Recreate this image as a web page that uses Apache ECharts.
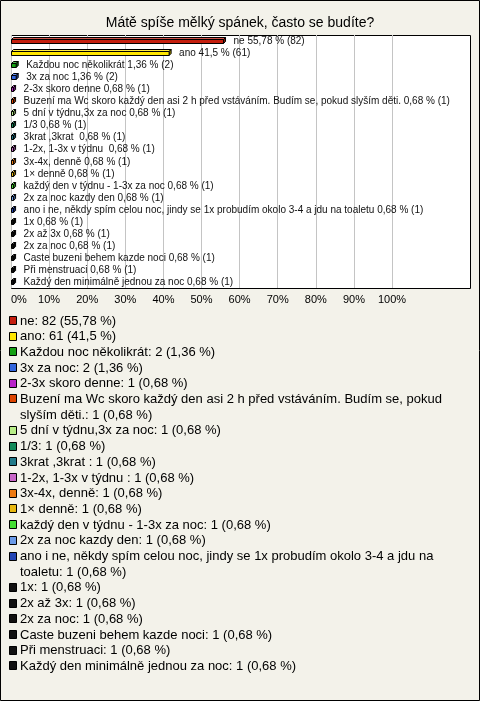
<!DOCTYPE html>
<html>
<head>
<meta charset="utf-8">
<script src="https://cdn.jsdelivr.net/npm/echarts@6/dist/echarts.min.js"></script>
<style>
html,body{margin:0;padding:0;background:#f3f2ea;}
#chart{width:480px;height:701px;}
</style>
</head>
<body>
<div id="chart"></div>
<script>
const title = 'Mátě spíše mělký spánek, často se budíte?';
const categories = [
  'ne', 'ano', 'Každou noc několikrát', '3x za noc', '2-3x skoro denne',
  'Buzení ma Wc skoro každý den asi 2 h před vstáváním. Budím se, pokud slyším děti.',
  '5 dní v týdnu,3x za noc', '1/3', '3krat ,3krat ', '1-2x, 1-3x v týdnu ',
  '3x-4x, denně', '1× denně', 'každý den v týdnu - 1-3x za noc', '2x za noc kazdy den',
  'ano i ne, někdy spím celou noc, jindy se 1x probudím okolo 3-4 a jdu na toaletu',
  '1x', '2x až 3x', '2x za noc', 'Caste buzeni behem kazde noci', 'Při menstruaci',
  'Každý den minimálně jednou za noc'
];
const counts = [82, 61, 2, 2, 1, 1, 1, 1, 1, 1, 1, 1, 1, 1, 1, 1, 1, 1, 1, 1, 1];
const percents = [55.78, 41.5, 1.36, 1.36, 0.68, 0.68, 0.68, 0.68, 0.68, 0.68, 0.68, 0.68, 0.68, 0.68, 0.68, 0.68, 0.68, 0.68, 0.68, 0.68, 0.68];
const colors = [
  '#c41e0e', '#ffe600', '#14a014', '#3366dd', '#b822c8', '#dd4400',
  '#b8ee88', '#128a5a', '#227a8a', '#c866c8', '#ee7a10', '#e8b810',
  '#44dd33', '#6a9ae8', '#2244b4', '#111111', '#111111', '#111111',
  '#111111', '#111111', '#111111'
];
const xMin = 0, xMax = 100, xInterval = 10;

const fmtPct = p => String(p).replace('.', ',');

function shade(hex, f) {
  const n = parseInt(hex.slice(1), 16);
  let r = (n >> 16) & 255, g = (n >> 8) & 255, b = n & 255;
  const m = v => Math.max(0, Math.min(255, Math.round(f >= 0 ? v + (255 - v) * f : v * (1 + f))));
  return 'rgb(' + m(r) + ',' + m(g) + ',' + m(b) + ')';
}

const chart = echarts.init(document.getElementById('chart'), null, {renderer: 'canvas'});

const canvas = document.createElement('canvas');
const ctx = canvas.getContext('2d');
const legendFont = '13px "Liberation Sans", Arial, sans-serif';
ctx.font = legendFont;
function wrap(text, maxW) {
  const words = text.split(' ');
  const lines = [];
  let cur = '';
  for (const w of words) {
    const t = cur ? cur + ' ' + w : w;
    if (cur && ctx.measureText(t).width > maxW) { lines.push(cur); cur = w; }
    else cur = t;
  }
  if (cur) lines.push(cur);
  return lines;
}
const legendEls = [];
const lh = 15.7;
let ly = 321;
categories.forEach((c, i) => {
  const txt = c + ': ' + counts[i] + ' (' + fmtPct(percents[i]) + ' %)';
  const lines = wrap(txt, 455);
  legendEls.push({
    type: 'rect', shape: {x: 9.5, y: Math.round(ly) - 4.5, width: 7, height: 8},
    style: {fill: colors[i], stroke: '#000', lineWidth: 1}, z: 10
  });
  legendEls.push({
    type: 'text', x: 20, y: ly - lh / 2, z: 10,
    style: {text: lines.join('\n'), font: legendFont, fill: '#000', verticalAlign: 'top', lineHeight: lh}
  });
  ly += lines.length * lh;
});

const option = {
  backgroundColor: '#f3f2ea',
  animation: false,
  title: {
    text: title, left: 'center', top: 11,
    textStyle: {fontFamily: '"Liberation Sans", Arial, sans-serif', fontSize: 14, fontWeight: 'normal', color: '#000'}
  },
  graphic: [
    {type: 'rect', shape: {x: 0.5, y: 0.5, width: 479, height: 700}, style: {fill: 'none', stroke: '#000', lineWidth: 1}, z: -10},
    {type: 'rect', shape: {x: 11.5, y: 35.5, width: 459, height: 253}, style: {fill: '#fff', stroke: '#000', lineWidth: 1}, z: -5}
  ].concat(legendEls),
  grid: {left: 11, top: 35, width: 381, height: 253, show: false},
  xAxis: {
    type: 'value', min: xMin, max: xMax, interval: xInterval,
    axisLine: {show: false}, axisTick: {show: false},
    splitLine: {show: true, lineStyle: {color: '#c4c4c4', width: 1}},
    axisLabel: {
      formatter: '{value}%', margin: 6, alignMinLabel: 'left',
      fontFamily: '"Liberation Sans", Arial, sans-serif', fontSize: 11, color: '#000'
    }
  },
  yAxis: {
    type: 'category', data: categories, inverse: true,
    axisLine: {show: false}, axisTick: {show: false}, axisLabel: {show: false}, splitLine: {show: false}
  },
  series: [{
    type: 'custom',
    encode: {x: 0, y: 1},
    data: percents.map((p, i) => [p, i]),
    renderItem: function (params, api) {
      const v = api.value(0), idx = api.value(1);
      const p0 = api.coord([0, idx]);
      const p1 = api.coord([v, idx]);
      const x0 = Math.round(p0[0]) + 0.5, x1 = Math.max(x0 + 2, p1[0]);
      const yc = Math.round(p0[1]) + 0.5;
      const d = 2;
      const top = yc - 2, bot = yc + 2;
      const col = colors[idx];
      const label = categories[idx] + ' ' + fmtPct(percents[idx]) + ' % (' + counts[idx] + ')';
      return {
        type: 'group',
        children: [
          {type: 'polygon', shape: {points: [[x0, top], [x0 + d, top - d], [x1 + d, top - d], [x1, top]]},
            style: {fill: shade(col, 0.25), stroke: '#000', lineWidth: 1}},
          {type: 'polygon', shape: {points: [[x1, top], [x1 + d, top - d], [x1 + d, bot - d], [x1, bot]]},
            style: {fill: shade(col, -0.35), stroke: '#000', lineWidth: 1}},
          {type: 'rect', shape: {x: x0, y: top, width: x1 - x0, height: bot - top},
            style: {fill: col, stroke: '#000', lineWidth: 1}},
          {type: 'text', x: x1 + d + 8, y: yc - 0.5,
            style: {text: label, font: '10px "Liberation Sans", Arial, sans-serif', fill: '#111', verticalAlign: 'middle'}}
        ]
      };
    }
  }]
};
chart.setOption(option);
</script>
</body>
</html>
